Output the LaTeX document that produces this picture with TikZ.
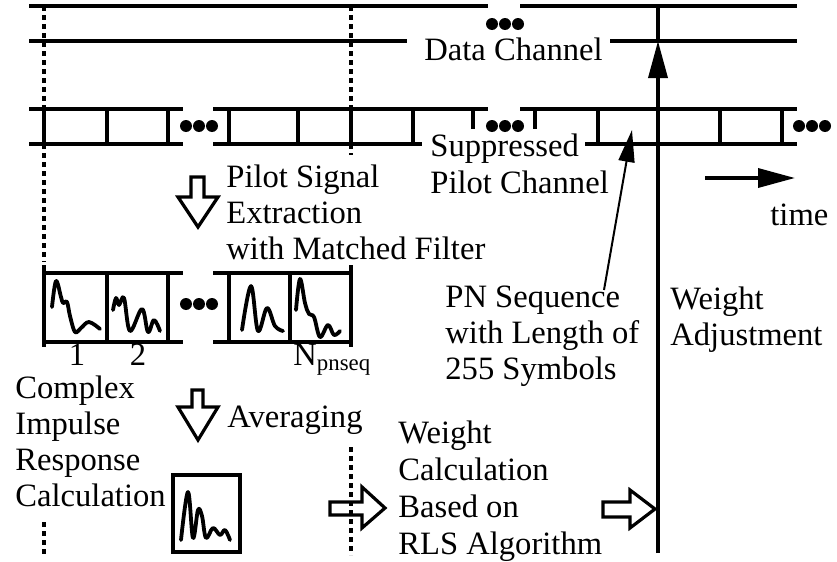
\documentclass[tikz,border=0pt]{standalone}
\usepackage{fontspec}
\setmainfont{Liberation Serif}
\usetikzlibrary{arrows.meta}

\begin{document}
\begin{tikzpicture}[x=0.5pt,y=-0.5pt,
    rule/.style={line width=1.75pt},
    guide/.style={line width=2pt,dash pattern=on 2.4pt off 2.1pt},
    wave/.style={line width=1.9pt,line cap=round,line join=round},
    hollow/.style={line width=1.6pt,line join=miter},
    txt/.style={inner sep=0pt,align=left,font=\fontsize{16.3}{18}\selectfont},
    txtwide/.style={txt,font=\fontsize{16.3}{18.5}\selectfont}]
    \useasboundingbox (0,0) rectangle (837,562);
    \draw[rule] (29,6) -- (488,6) (520,6) -- (797,6);
    \draw[rule] (29,41) -- (407,41) (610,41) -- (797,41);
    \node[txt,anchor=base west] (data) at (424,61) {Data Channel};
    \draw[rule] (29,109) -- (183,109) (213,109) -- (488,109) (520,109) -- (797,109);
    \draw[rule] (29,144) -- (183,144) (213,144) -- (422,144) (585,144) -- (797,144);
    \foreach \x in {44,107,168,229,298,351,413,598,720,782}
    {
    \draw[rule] (\x,109) -- (\x,144);
    }
    \foreach \x in {473,535}
    {
    \draw[rule] (\x,109) -- (\x,129);
    }
    \node[txtwide,anchor=north west] (supp) at (430,133) {Suppressed\\Pilot Channel};
    \foreach \cx/\cy in {505/24,199/126,505/126,812/126,199/304}
    {
    \foreach \d in {-13,0,13}
        \fill (\cx+\d,\cy) circle (3pt);
    }
    \draw[guide] (44,6) -- (44,109) (44,144) -- (44,262) (44,522) -- (44,555);
    \draw[guide] (351,6) -- (351,109) (351,144) -- (351,155) (351,447) -- (351,555);
    \coordinate (t0) at (705,178);
    \coordinate (t1) at (795,178);
    \draw[rule,-{Triangle[length=18.5pt,width=9.5pt]}] (t0) -- (t1);
    \node[txt,anchor=base west] (time) at (770,225) {time};
    \coordinate (wbot) at (658,553);
    \coordinate (wtip) at (658,41);
    \coordinate (wtop) at (658,6);
    \draw[rule,-{Triangle[length=18.5pt,width=9.5pt]}] (wbot) -- (wtip);
    \draw[rule] (wtip) -- (wtop);
    \coordinate (pnfoot) at (604,290);
    \coordinate (pntip) at (632,130);
    \draw[line width=1pt,-{Triangle[length=16pt,width=8pt]}] (pnfoot) -- (pntip);
    \node[txt,anchor=north west] (pn) at (445,286) {PN Sequence\\with Length of\\255 Symbols};
    \node[txt,anchor=north west] (adj) at (670,286) {Weight\\Adjustment};
    \node[txt,anchor=north west] (sig) at (226,164) {Pilot Signal\\Extraction\\with Matched Filter};
    \draw[hollow] (191,177) -- (204,177) -- (204,197) -- (218,197) -- (198,227) -- (178,197) -- (191,197) -- cycle;
    \draw[rule] (44,273) -- (183,273) (213,273) -- (351,273);
    \draw[rule] (44,342) -- (183,342) (213,342) -- (351,342);
    \draw[rule] (44,265) -- (44,347) (351,265) -- (351,347);
    \foreach \x in {107,168,229,290}
    {
    \draw[rule] (\x,273) -- (\x,342);
    }
    \draw[wave] plot[smooth,tension=0.6] coordinates {(52,307) (56,281) (61,297) (63,303) (67,302) (70,316) (75,332) (81,328) (89,322) (100,329)};
    \draw[wave] plot[smooth,tension=0.6] coordinates {(113,310) (116,298) (119,305) (124,298) (130,331) (142,309) (148,332) (154,320) (160,331)};
    \draw[wave] plot[smooth,tension=0.6] coordinates {(242,330) (251,286) (258,331) (267,308) (275,326) (283,331)};
    \draw[wave] plot[smooth,tension=0.6] coordinates {(296,310) (300,279) (305,303) (309,314) (314,317) (320,337) (328,325) (334,335) (340,331)};
    \node[txt,anchor=base] (n1) at (77,365) {1};
    \node[txt,anchor=base] (n2) at (138,365) {2};
    \node[txt,anchor=base west] (nseq) at (293,365) {N\textsubscript{pnseq}};
    \node[txt,anchor=north west] (cir) at (15,375) {Complex\\Impulse\\Response\\Calculation};
    \draw[hollow] (192,390) -- (203,390) -- (203,407) -- (218,407) -- (198,440) -- (178,407) -- (192,407) -- cycle;
    \node[txt,anchor=base west] (avg) at (227,427) {Averaging};
    \draw[rule] (173,475) rectangle (240,552);
    \draw[wave] plot[smooth,tension=0.6] coordinates {(181,540) (188,492) (193,538) (198,510) (202,516) (206,538) (213,528) (220,535) (225,530) (230,540)};
    \draw[hollow] (330,502) -- (362,502) -- (362,487) -- (385,508) -- (362,528) -- (362,515) -- (330,515) -- cycle;
    \node[txtwide,anchor=north west] (rls) at (398,420) {Weight\\Calculation\\Based on\\RLS Algorithm};
    \draw[hollow] (603,502) -- (630,502) -- (630,490) -- (655,509) -- (630,528) -- (630,517) -- (603,517) -- cycle;
\end{tikzpicture}
\end{document}
